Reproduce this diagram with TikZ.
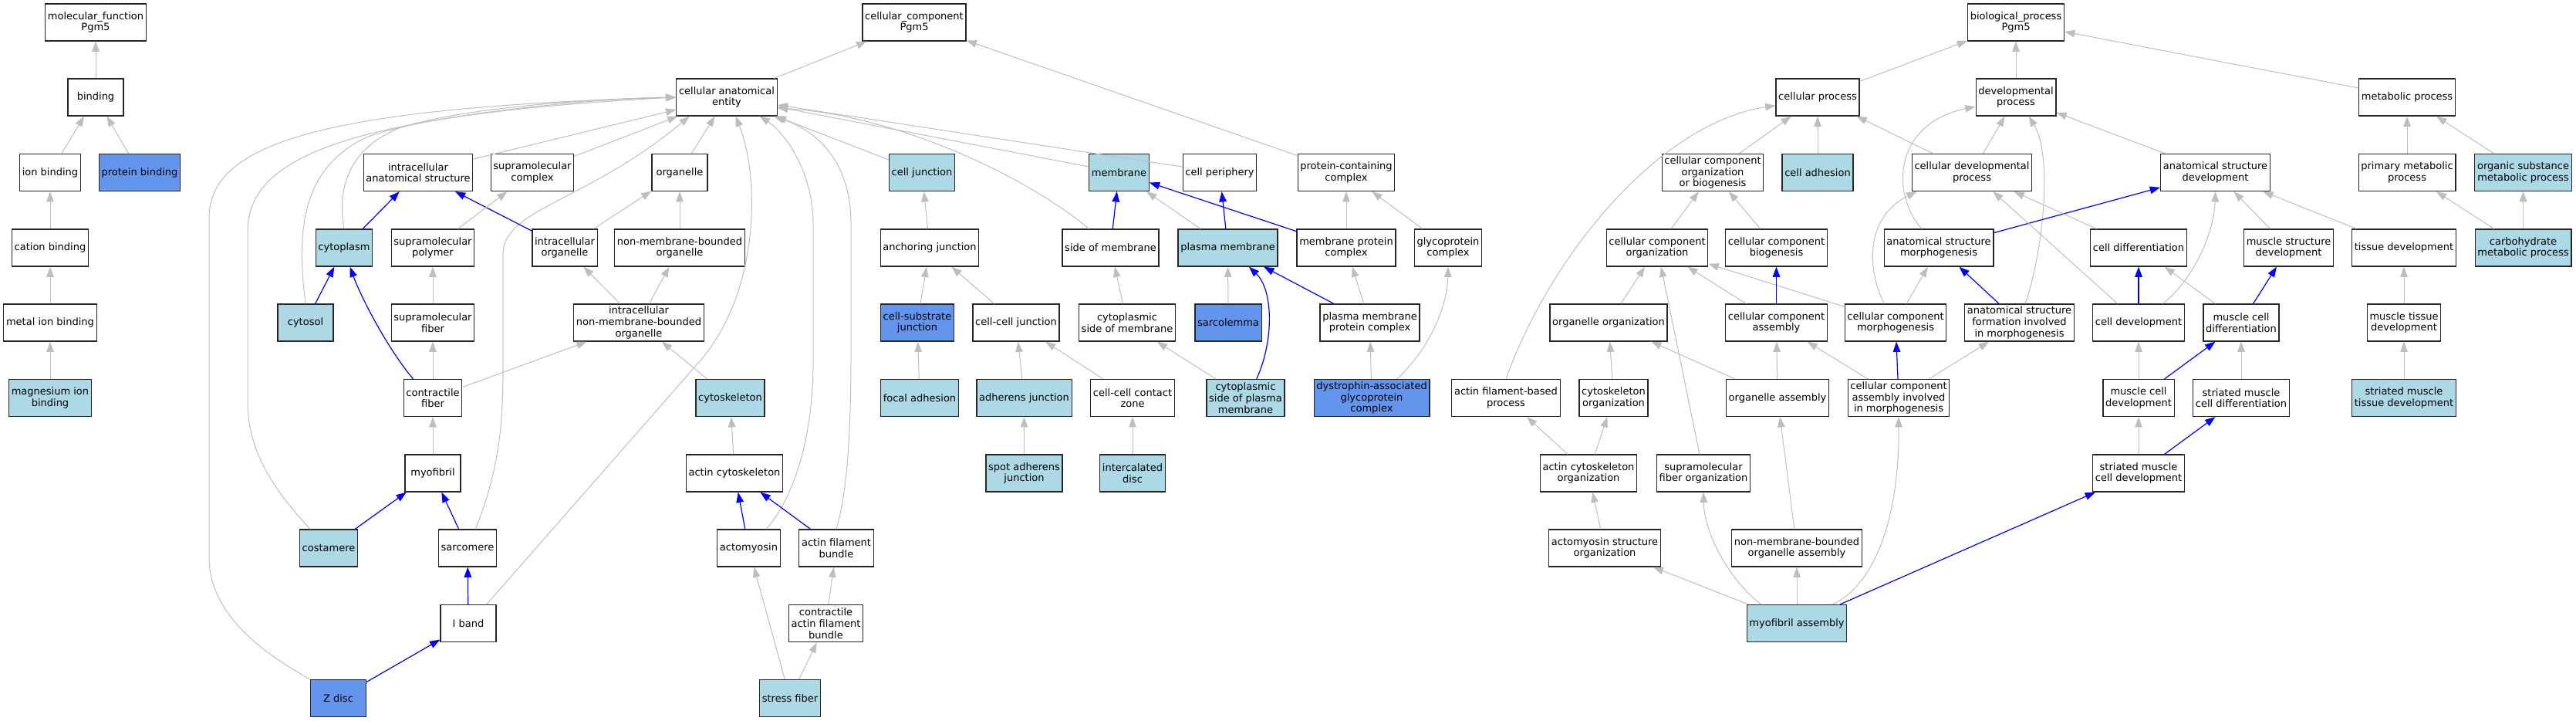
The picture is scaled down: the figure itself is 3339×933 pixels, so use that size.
\documentclass[tikz,border=0pt]{standalone}
\usepackage{fontspec}
\setmainfont{DejaVu Sans}
\usetikzlibrary{arrows.meta}
\definecolor{annoblue}{HTML}{ADD8E6}
\definecolor{hitblue}{HTML}{6495ED}
\definecolor{isagray}{HTML}{BEBEBE}

\begin{document}
\begin{tikzpicture}[x = 0.75pt, y = -0.75pt,
                    term/.style = {rectangle, draw = black!85, line width = 0.9pt, fill = white,
                                   minimum width = 54pt, minimum height = 36pt, inner xsep = 2.4pt,
                                   inner ysep = 1pt, align = center, font = \fontsize{9.75}{11}\selectfont},
                    anno/.style = {term, fill = annoblue},
                    hit/.style = {term, fill = hitblue},
                    isa/.style = {draw = isagray, line width = 0.75pt, -{Triangle[length = 10pt, width = 7.2pt]}},
                    partof/.style = {draw = blue, line width = 0.9pt, -{Triangle[length = 10pt, width = 7.2pt]}}]
      \useasboundingbox (0, 0) rectangle (3339, 933);

      \node [term] (mf) at (124, 29){molecular\_function\\Pgm5};
      \node [term] (binding) at (124, 126){binding};
      \node [term] (ionb) at (65, 223.5){ion binding};
      \node [hit] (protb) at (181, 223.5){protein binding};
      \node [term] (catb) at (65, 321){cation binding};
      \node [term] (metb) at (65, 418){metal ion binding};
      \node [anno] (mgb) at (65, 515.5){magnesium ion\\binding};

      \node [term] (cc) at (1185, 29){cellular\_component\\Pgm5};
      \node [term] (cae) at (942, 126){cellular anatomical\\entity};
      \node [term] (ias) at (542, 223.5){intracellular\\anatomical structure};
      \node [term] (smc) at (690, 223.5){supramolecular\\complex};
      \node [term] (org) at (881, 223.5){organelle};
      \node [anno] (cjunc) at (1195, 223.5){cell junction};
      \node [anno] (memb) at (1450.5, 223.5){membrane};
      \node [term] (cper) at (1581, 223.5){cell periphery};
      \node [term] (pcc) at (1745, 223.5){protein-containing\\complex};
      \node [anno] (cplasm) at (446, 321){cytoplasm};
      \node [term] (smpoly) at (561, 321){supramolecular\\polymer};
      \node [term] (iorg) at (732, 321){intracellular\\organelle};
      \node [term] (nmbo) at (881, 321){non-membrane-bounded\\organelle};
      \node [term] (ajunc) at (1205, 321){anchoring junction};
      \node [term] (som) at (1439.5, 321){side of membrane};
      \node [anno] (pmem) at (1591.5, 321){plasma membrane};
      \node [term] (mpc) at (1745, 321){membrane protein\\complex};
      \node [term] (glyco) at (1877, 321){glycoprotein\\complex};
      \node [anno] (cytosol) at (396, 418){cytosol};
      \node [term] (smfib) at (561, 418){supramolecular\\fiber};
      \node [term] (inmbo) at (828, 418){intracellular\\non-membrane-bounded\\organelle};
      \node [hit] (csj) at (1189, 418){cell-substrate\\junction};
      \node [term] (ccj) at (1317, 418){cell-cell junction};
      \node [term] (csm) at (1461, 418){cytoplasmic\\side of membrane};
      \node [hit] (sarcol) at (1592, 418){sarcolemma};
      \node [term] (pmpc) at (1775.5, 418){plasma membrane\\protein complex};
      \node [term] (cfib) at (561, 515.5){contractile\\fiber};
      \node [anno] (cskel) at (946.5, 515.5){cytoskeleton};
      \node [anno] (focal) at (1192, 515.5){focal adhesion};
      \node [anno] (adh) at (1327.5, 515.5){adherens junction};
      \node [term] (cccz) at (1468, 515.5){cell-cell contact\\zone};
      \node [anno] (cspm) at (1614.5, 515.5){cytoplasmic\\side of plasma\\membrane};
      \node [hit] (dagc) at (1778, 515.5){dystrophin-associated\\glycoprotein\\complex};
      \node [term] (myofib) at (561, 613){myofibril};
      \node [term] (acskel) at (952, 613){actin cytoskeleton};
      \node [anno] (spot) at (1327.5, 613){spot adherens\\junction};
      \node [anno] (icd) at (1468, 613){intercalated\\disc};
      \node [anno] (costa) at (426, 710){costamere};
      \node [term] (sarco) at (606, 710){sarcomere};
      \node [term] (amyo) at (970.5, 710){actomyosin};
      \node [term] (afb) at (1084, 710){actin filament\\bundle};
      \node [term] (iband) at (607, 807.5){I band};
      \node [term] (cafb) at (1070.5, 807.5){contractile\\actin filament\\bundle};
      \node [hit] (zdisc) at (438.5, 904.5){Z disc};
      \node [anno] (sfib) at (1024, 904.5){stress fiber};

      \node [term] (bp) at (2613, 29){biological\_process\\Pgm5};
      \node [term] (cp) at (2356, 126){cellular process};
      \node [term] (dp) at (2613, 126){developmental\\process};
      \node [term] (mp) at (3120, 126){metabolic process};
      \node [term] (ccob) at (2220, 223.5){cellular component\\organization\\or biogenesis};
      \node [anno] (cadh) at (2356, 223.5){cell adhesion};
      \node [term] (cdp) at (2556, 223.5){cellular developmental\\process};
      \node [term] (asd) at (2871.5, 223.5){anatomical structure\\development};
      \node [term] (pmp) at (3120, 223.5){primary metabolic\\process};
      \node [anno] (osmp) at (3270.5, 223.5){organic substance\\metabolic process};
      \node [term] (cco) at (2148, 321){cellular component\\organization};
      \node [term] (ccb) at (2302.5, 321){cellular component\\biogenesis};
      \node [term] (asm) at (2513, 321){anatomical structure\\morphogenesis};
      \node [term] (cdiff) at (2772, 321){cell differentiation};
      \node [term] (msd) at (2966.5, 321){muscle structure\\development};
      \node [term] (tdev) at (3116, 321){tissue development};
      \node [anno] (cmp) at (3270.5, 321){carbohydrate\\metabolic process};
      \node [term] (oo) at (2085, 418){organelle organization};
      \node [term] (cca) at (2302.5, 418){cellular component\\assembly};
      \node [term] (ccm) at (2457, 418){cellular component\\morphogenesis};
      \node [term] (asfim) at (2617.5, 418){anatomical structure\\formation involved\\in morphogenesis};
      \node [term] (cdev) at (2772, 418){cell development};
      \node [term] (mcdiff) at (2905, 418){muscle cell\\differentiation};
      \node [term] (mtd) at (3116, 418){muscle tissue\\development};
      \node [term] (afbp) at (1952, 515.5){actin filament-based\\process};
      \node [term] (csko) at (2091.5, 515.5){cytoskeleton\\organization};
      \node [term] (oa) at (2304, 515.5){organelle assembly};
      \node [term] (ccaim) at (2461, 515.5){cellular component\\assembly involved\\in morphogenesis};
      \node [term] (mcdev) at (2772, 515.5){muscle cell\\development};
      \node [term] (smcdiff) at (2905, 515.5){striated muscle\\cell differentiation};
      \node [anno] (smtd) at (3116, 515.5){striated muscle\\tissue development};
      \node [term] (aco) at (2059, 613){actin cytoskeleton\\organization};
      \node [term] (sfo) at (2208, 613){supramolecular\\fiber organization};
      \node [term] (smcdev) at (2772, 613){striated muscle\\cell development};
      \node [term] (aso) at (2080, 710){actomyosin structure\\organization};
      \node [term] (nmboa) at (2329, 710){non-membrane-bounded\\organelle assembly};
      \node [anno] (mfa) at (2329, 807.5){myofibril assembly};

      \draw [isa] (binding) -- (mf);
      \draw [isa] (ionb) -- (binding);
      \draw [isa] (protb) -- (binding);
      \draw [isa] (catb) -- (ionb);
      \draw [isa] (metb) -- (catb);
      \draw [isa] (mgb) -- (metb);

      \draw [isa] (cae) -- (cc);
      \draw [isa] (pcc) -- (cc);
      \draw [isa] (ias) -- (cae);
      \draw [isa] (smc) -- (cae);
      \draw [isa] (org) -- (cae);
      \draw [isa] (cjunc) -- (cae);
      \draw [isa] (memb) -- (cae);
      \draw [isa] (cper) -- (cae);
      \draw [isa] (zdisc.north west) .. controls (330, 840) and (271, 790) .. (271, 722) -- (271, 283)
                  .. controls (271, 190) and (400, 140) .. (cae.west);
      \draw [isa] (costa.134) .. controls (350, 630) and (321, 580) .. (321, 520) -- (321, 300)
                  .. controls (321, 210) and (430, 150) .. (cae.west);
      \draw [isa] (cytosol.north) .. controls (383, 290) and (395, 220) .. (470, 180)
                  .. controls (540, 150) and (760, 128) .. (cae.west);
      \draw [isa] (cplasm.north) .. controls (436, 240) and (455, 190) .. (520, 165)
                  .. controls (600, 140) and (760, 128) .. (cae.west);
      \draw [isa] (sarco.67) .. controls (650, 600) and (652, 540) .. (652, 470) -- (652, 330)
                  .. controls (652, 270) and (760, 262) .. (cae.207);
      \draw [isa] (iband.46) -- (907, 468) .. controls (985, 378) and (985, 230) .. (cae.-65);
      \draw [isa] (amyo.47) .. controls (1040, 630) and (1054, 540) .. (1054, 470) -- (1054, 290)
                  .. controls (1054, 220) and (1015, 170) .. (cae.-30);
      \draw [isa] (afb.north) .. controls (1098, 640) and (1103, 560) .. (1103, 460) -- (1103, 290)
                  .. controls (1103, 210) and (1060, 170) .. (cae.-22);
      \draw [isa] (som.139) .. controls (1340, 235) and (1170, 150) .. (cae.-12);
      \draw [partof] (cplasm) -- (ias);
      \draw [partof] (cytosol) -- (cplasm);
      \draw [partof] (cfib.136) .. controls (505, 455) and (470, 390) .. (cplasm.-73);
      \draw [partof] (iorg) -- (ias);
      \draw [isa] (smpoly) -- (smc);
      \draw [isa] (smfib) -- (smpoly);
      \draw [isa] (cfib) -- (smfib);
      \draw [isa] (myofib) -- (cfib);
      \draw [partof] (costa) -- (myofib);
      \draw [partof] (sarco) -- (myofib);
      \draw [partof] (iband) -- (sarco);
      \draw [partof] (zdisc) -- (iband);
      \draw [isa] (iorg) -- (org);
      \draw [isa] (nmbo) -- (org);
      \draw [isa] (inmbo) -- (iorg);
      \draw [isa] (inmbo) -- (nmbo);
      \draw [isa] (cfib) -- (inmbo);
      \draw [isa] (cskel) -- (inmbo);
      \draw [isa] (acskel) -- (cskel);
      \draw [partof] (amyo) -- (acskel);
      \draw [partof] (afb) -- (acskel);
      \draw [isa] (cafb) -- (afb);
      \draw [isa] (sfib) -- (amyo);
      \draw [isa] (sfib) -- (cafb);
      \draw [isa] (ajunc) -- (cjunc);
      \draw [isa] (csj) -- (ajunc);
      \draw [isa] (ccj) -- (ajunc);
      \draw [isa] (focal) -- (csj);
      \draw [isa] (adh) -- (ccj);
      \draw [isa] (cccz) -- (ccj);
      \draw [isa] (spot) -- (adh);
      \draw [isa] (icd) -- (cccz);
      \draw [partof] (som) -- (memb);
      \draw [isa] (pmem) -- (memb);
      \draw [partof] (pmem) -- (cper);
      \draw [partof] (mpc) -- (memb);
      \draw [isa] (csm) -- (som);
      \draw [isa] (sarcol) -- (pmem);
      \draw [isa] (cspm) -- (csm);
      \draw [partof] (cspm.60) .. controls (1652, 440) and (1650, 375) .. (pmem.-42);
      \draw [partof] (pmpc) -- (pmem);
      \draw [isa] (pmpc) -- (mpc);
      \draw [isa] (mpc) -- (pcc);
      \draw [isa] (glyco) -- (pcc);
      \draw [isa] (dagc) -- (pmpc);
      \draw [isa] (dagc.37) .. controls (1850, 455) and (1876, 400) .. (glyco.south);

      \draw [isa] (cp) -- (bp);
      \draw [isa] (dp) -- (bp);
      \draw [isa] (mp) -- (bp);
      \draw [isa] (ccob) -- (cp);
      \draw [isa] (cadh) -- (cp);
      \draw [isa] (cdp) -- (cp);
      \draw [isa] (afbp.north) .. controls (2010, 330) and (2150, 160) .. (cp.191);
      \draw [isa] (cdp) -- (dp);
      \draw [isa] (asd) -- (dp);
      \draw [isa] (asm.132) .. controls (2450, 250) and (2455, 160) .. (dp.193);
      \draw [isa] (asfim.73) .. controls (2650, 320) and (2660, 200) .. (dp.-56);
      \draw [isa] (pmp) -- (mp);
      \draw [isa] (osmp) -- (mp);
      \draw [isa] (cmp) -- (pmp);
      \draw [isa] (cmp) -- (osmp);
      \draw [isa] (cco) -- (ccob);
      \draw [isa] (ccb) -- (ccob);
      \draw [isa] (oo) -- (cco);
      \draw [isa] (cca) -- (cco);
      \draw [isa] (ccm) -- (cco);
      \draw [isa] (sfo) -- (cco);
      \draw [partof] (cca) -- (ccb);
      \draw [isa] (ccm) -- (asm);
      \draw [isa] (ccm.121) .. controls (2418, 345) and (2420, 280) .. (cdp.199);
      \draw [partof] (asfim) -- (asm);
      \draw [partof] (asm) -- (asd);
      \draw [isa] (cdiff) -- (cdp);
      \draw [isa] (cdev) -- (cdp);
      \draw [partof] (cdev) -- (cdiff);
      \draw [isa] (cdev.38) .. controls (2845, 360) and (2870, 300) .. (asd.south);
      \draw [isa] (msd) -- (asd);
      \draw [isa] (tdev) -- (asd);
      \draw [isa] (mcdiff) -- (cdiff);
      \draw [partof] (mcdiff) -- (msd);
      \draw [isa] (mtd) -- (tdev);
      \draw [isa] (smtd) -- (mtd);
      \draw [isa] (csko) -- (oo);
      \draw [isa] (oa) -- (oo);
      \draw [isa] (oa) -- (cca);
      \draw [isa] (ccaim) -- (cca);
      \draw [partof] (ccaim) -- (ccm);
      \draw [isa] (ccaim) -- (asfim);
      \draw [isa] (mcdev) -- (cdev);
      \draw [partof] (mcdev) -- (mcdiff);
      \draw [isa] (smcdiff) -- (mcdiff);
      \draw [isa] (aco) -- (afbp);
      \draw [isa] (aco) -- (csko);
      \draw [isa] (smcdev) -- (mcdev);
      \draw [partof] (smcdev) -- (smcdiff);
      \draw [isa] (aso) -- (aco);
      \draw [isa] (nmboa) -- (oa);
      \draw [isa] (mfa) -- (aso);
      \draw [isa] (mfa) -- (nmboa);
      \draw [isa] (mfa.152) .. controls (2240, 750) and (2209, 690) .. (sfo.south);
      \draw [isa] (mfa.28) .. controls (2435, 755) and (2462, 660) .. (ccaim.south);
      \draw [partof] (mfa) -- (smcdev);
      \end{tikzpicture}
\end{document}
